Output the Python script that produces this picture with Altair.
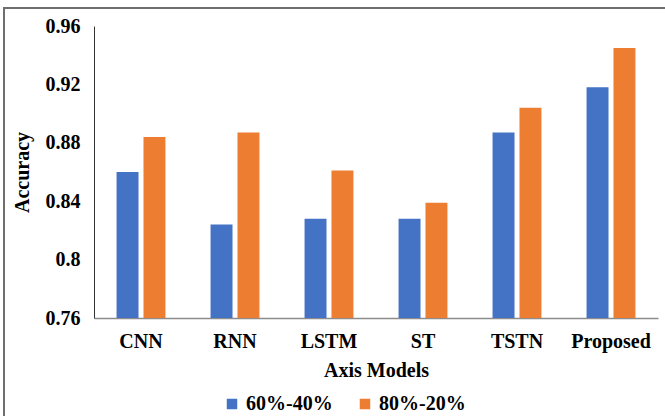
import altair as alt
import pandas as pd

# Accuracy of each model under two train/test splits
models = ["CNN", "RNN", "LSTM", "ST", "TSTN", "Proposed"]
split_60_40 = [0.860, 0.824, 0.828, 0.828, 0.887, 0.918]
split_80_20 = [0.884, 0.887, 0.861, 0.839, 0.904, 0.945]
splits = ["60%-40%", "80%-20%"]
y_ticks = [0.76, 0.80, 0.84, 0.88, 0.92, 0.96]

rows = []
for m, a, b in zip(models, split_60_40, split_80_20):
    rows.append({"model": m, "split": splits[0], "accuracy": a})
    rows.append({"model": m, "split": splits[1], "accuracy": b})
df = pd.DataFrame(rows)

FONT = "Liberation Serif"

bars = alt.Chart(df).mark_bar(clip=True).encode(
    x=alt.X(
        "model:N",
        sort=models,
        scale=alt.Scale(paddingInner=0.48, paddingOuter=0.24),
        axis=alt.Axis(
            title="Axis Models",
            labelAngle=0,
            labelFont=FONT,
            labelFontSize=20,
            labelFontWeight="bold",
            labelColor="black",
            labelPadding=13,
            ticks=False,
            domainColor="#8c8c8c",
            domainWidth=1.5,
            titleFont=FONT,
            titleFontSize=20,
            titleFontWeight="bold",
            titleColor="black",
            titleY=52,
            titleBaseline="middle",
        ),
    ),
    xOffset=alt.XOffset(
        "split:N",
        sort=splits,
        scale=alt.Scale(paddingInner=0.185, paddingOuter=0),
    ),
    y=alt.Y(
        "accuracy:Q",
        scale=alt.Scale(domain=[0.76, 0.96], zero=False, nice=False),
        axis=alt.Axis(
            title="Accuracy",
            values=y_ticks,
            format=".2~f",
            grid=False,
            ticks=False,
            labelFont=FONT,
            labelFontSize=20,
            labelFontWeight="bold",
            labelColor="black",
            labelPadding=14,
            domainColor="#333333",
            domainWidth=1,
            titleFont=FONT,
            titleFontSize=20,
            titleFontWeight="bold",
            titleColor="black",
            titleX=-72,
            titleY=146,
            titleAngle=270,
            titleBaseline="middle",
            titleAlign="center",
        ),
    ),
    color=alt.Color(
        "split:N",
        sort=splits,
        scale=alt.Scale(domain=splits, range=["#4472C4", "#ED7D31"]),
        legend=alt.Legend(
            title=None,
            orient="none",
            legendX=128,
            legendY=368,
            direction="horizontal",
            symbolType="square",
            symbolSize=110,
            symbolStrokeWidth=0,
            symbolOpacity=1,
            labelFont=FONT,
            labelFontSize=20,
            labelFontWeight="bold",
            labelColor="black",
            labelLimit=200,
            labelOffset=4,
            columnPadding=22,
        ),
    ),
)

# Outer frame around the figure
frame = alt.Chart(alt.Data(values=[{"f": 1}])).mark_rect(
    fill=None, stroke="#6e6e6e", strokeWidth=2
).encode(
    x=alt.value(-90),
    y=alt.value(-18),
    x2=alt.value(700),
    y2=alt.value(500),
)

chart = alt.layer(frame, bars).properties(
    width=564,
    height=292,
    autosize=alt.AutoSizeParams(type="none"),
    padding={"left": 94, "top": 26, "right": 7, "bottom": 98},
    background="white",
).configure_view(stroke=None)

chart.save("out.html", embed_options={"renderer": "svg", "actions": False})
